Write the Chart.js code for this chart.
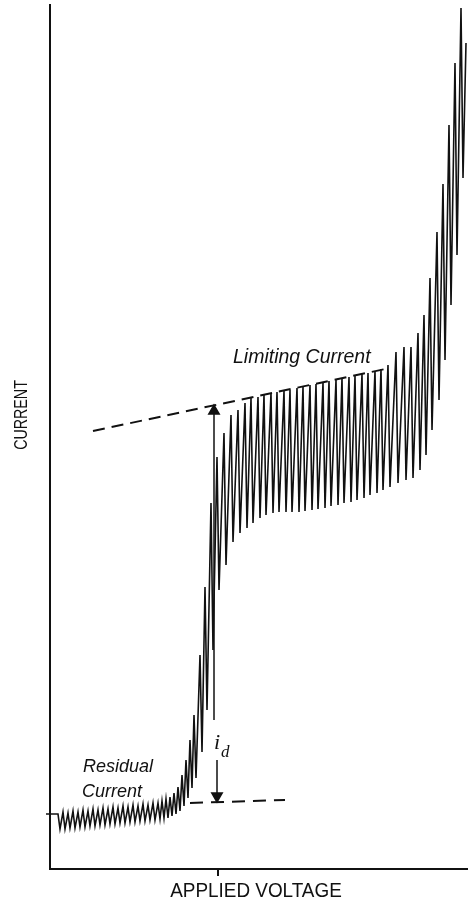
<!DOCTYPE html>
<html>
<head>
<meta charset="utf-8">
<script src="https://cdn.jsdelivr.net/npm/chart.js@4.4.1/dist/chart.umd.min.js"></script>
<style>
  html, body { margin: 0; padding: 0; background: #fff; overflow: hidden; }
  #wrap { width: 468px; height: 906px; }
  canvas { display: block; }
</style>
</head>
<body>
<div id="wrap"><canvas id="polarogram" width="468" height="906"></canvas></div>
<script>
// Polarogram read drop by drop (arbitrary voltage / current units)
const dropVoltage = [
  8, 13, 18, 23, 28, 33, 38, 43, 48, 53, 58, 63, 68, 73, 78, 83, 88, 93, 98, 103, 108,
  112, 116,
  120, 124, 128, 132, 136, 140, 144, 150, 155, 161, 167,
  174, 181, 188, 195, 201, 208, 214, 221, 227, 234, 240, 247, 253, 260, 266, 273, 279, 286, 292, 299, 305, 312, 318, 325, 331,
  338, 346, 354, 361, 368, 374, 380, 387, 393, 399, 405, 411
];
const currentBeforeDrop = [
  55, 57, 56, 58, 57, 59, 58, 60, 59, 61, 60, 62, 61, 63, 62, 64, 63, 65, 64, 66, 66,
  68, 70,
  72, 76, 82, 94, 109, 129, 154, 214, 282, 366, 412,
  436, 454, 459, 466, 471, 472, 474, 476, 477, 478, 479, 481, 482, 484, 485, 486, 488, 489, 491, 492, 493, 495, 496, 498, 500,
  504, 517, 522, 522, 536, 554, 591, 637, 685, 744, 806, 861
];
const currentAfterDrop = [
  40, 40, 41, 41, 42, 42, 43, 43, 44, 44, 45, 45, 46, 46, 47, 47, 48, 48, 49, 49, 50,
  51, 51,
  53, 55, 58, 63, 71, 81, 91, 117, 159, 219, 279,
  304, 327, 336, 341, 346, 351, 354, 356, 357, 357, 357, 357, 358, 359, 360, 361, 363, 364, 366, 367, 369, 371, 374, 376, 379,
  382, 386, 389, 391, 399, 414, 439, 469, 509, 564, 614, 691
];
const traceStart = [-4, 55];
const traceEnd = [416, 826];

// extrapolated limiting and residual current lines
const limitingVoltage = [43, 340];
const limitingCurrent = [438, 501];
const residualVoltage = [140, 235];
const residualCurrent = [66, 69];

// i_d arrows (voltage, from current, to current)
const idUpArrow = [164, 149, 458];
const idDownArrow = [167, 109, 73];
const voltageTicks = [168];

const trace = [{x: traceStart[0], y: traceStart[1]}];
dropVoltage.forEach((v, i) => {
  trace.push({x: v, y: currentBeforeDrop[i]});
  trace.push({x: v + 2, y: currentAfterDrop[i]});
});
trace.push({x: traceEnd[0], y: traceEnd[1]});

function pairs(xs, ys) {
  return xs.map((v, i) => ({x: v, y: ys[i]}));
}

function drawCondensed(ctx, text, cx, cy, squeeze, angle) {
  ctx.save();
  ctx.translate(cx, cy);
  ctx.rotate(angle);
  ctx.scale(squeeze, 1);
  ctx.textAlign = 'center';
  ctx.textBaseline = 'middle';
  ctx.fillText(text, 0, 0);
  ctx.restore();
}

const labelPlugin = {
  id: 'polaroLabels',
  afterDatasetsDraw(chart) {
    const {ctx, scales: {x, y}} = chart;
    ctx.save();
    ctx.fillStyle = '#111';
    ctx.textAlign = 'left';
    ctx.textBaseline = 'alphabetic';
    ctx.font = 'italic 19.5px "Liberation Sans", Arial, sans-serif';
    ctx.fillText('Limiting Current', x.getPixelForValue(183), y.getPixelForValue(506));
    ctx.font = 'italic 18px "Liberation Sans", Arial, sans-serif';
    ctx.fillText('Residual', x.getPixelForValue(33), y.getPixelForValue(97));
    ctx.fillText('Current', x.getPixelForValue(32), y.getPixelForValue(72));
    ctx.font = 'italic 22px "Liberation Serif", "Times New Roman", serif';
    ctx.fillText('i', x.getPixelForValue(164), y.getPixelForValue(120));
    ctx.font = 'italic 17px "Liberation Serif", "Times New Roman", serif';
    ctx.fillText('d', x.getPixelForValue(171), y.getPixelForValue(112));

    ctx.font = '21px "Liberation Sans", Arial, sans-serif';
    drawCondensed(ctx, 'APPLIED VOLTAGE', 256, 891, 0.9, 0);
    ctx.font = '19px "Liberation Sans", Arial, sans-serif';
    drawCondensed(ctx, 'CURRENT', 22, 415, 0.75, -Math.PI / 2);
    ctx.restore();
  }
};

const ink = '#111';

new Chart(document.getElementById('polarogram'), {
  type: 'scatter',
  data: {
    datasets: [
      {
        label: 'trace',
        data: trace,
        showLine: true,
        borderColor: ink,
        borderWidth: 1.6,
        pointRadius: 0,
        clip: false
      },
      {
        label: 'limiting current',
        data: pairs(limitingVoltage, limitingCurrent),
        showLine: true,
        borderColor: ink,
        borderWidth: 2,
        borderDash: [12, 7],
        pointRadius: 0
      },
      {
        label: 'residual current',
        data: pairs(residualVoltage, residualCurrent),
        showLine: true,
        borderColor: ink,
        borderWidth: 2,
        borderDash: [13, 8],
        pointRadius: 0
      },
      {
        label: 'id up',
        data: [{x: idUpArrow[0], y: idUpArrow[1]}, {x: idUpArrow[0], y: idUpArrow[2]}],
        showLine: true,
        borderColor: ink,
        backgroundColor: ink,
        borderWidth: 1.5,
        pointStyle: 'triangle',
        pointRadius: [0, 6],
        rotation: 0
      },
      {
        label: 'id down',
        data: [{x: idDownArrow[0], y: idDownArrow[1]}, {x: idDownArrow[0], y: idDownArrow[2]}],
        showLine: true,
        borderColor: ink,
        backgroundColor: ink,
        borderWidth: 1.5,
        pointStyle: 'triangle',
        pointRadius: [0, 6],
        rotation: 180
      }
    ]
  },
  options: {
    responsive: false,
    animation: false,
    devicePixelRatio: 1,
    layout: {autoPadding: false, padding: {left: 50, right: 0, top: 5, bottom: 30}},
    plugins: {legend: {display: false}, tooltip: {enabled: false}},
    events: [],
    scales: {
      x: {
        type: 'linear',
        min: 0,
        max: 418,
        afterBuildTicks: s => { s.ticks = voltageTicks.map(v => ({value: v})); },
        ticks: {display: false},
        grid: {display: true, drawOnChartArea: false, drawTicks: true, tickLength: 7, color: ink, lineWidth: 2},
        border: {display: true, color: ink, width: 2}
      },
      y: {
        type: 'linear',
        min: 0,
        max: 864,
        ticks: {display: false},
        grid: {display: false, drawTicks: false},
        border: {display: true, color: ink, width: 2}
      }
    }
  },
  plugins: [labelPlugin]
});
</script>
</body>
</html>
